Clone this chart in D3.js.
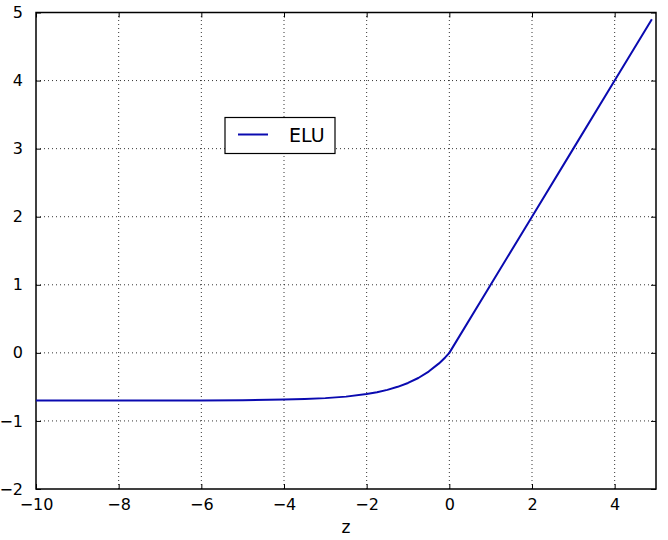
<!DOCTYPE html>
<html>
<head>
<meta charset="utf-8">
<script src="https://cdn.jsdelivr.net/npm/d3@7/dist/d3.min.js"></script>
<style>
  body { margin: 0; background: #fff; }
  text { font-family: "DejaVu Sans", sans-serif; fill: #000; }
</style>
</head>
<body>
<svg id="chart" width="668" height="540"></svg>
<script>
// values
var zValues   = [-10, -9, -8, -7, -6, -5, -4, -3.5, -3, -2.5, -2, -1.75, -1.5, -1.25, -1, -0.75, -0.5, -0.25, -0.1, 0, 1, 2, 3, 4, 4.9];
var eluValues = [-0.70, -0.70, -0.70, -0.70, -0.70, -0.695, -0.687, -0.679, -0.665, -0.643, -0.605, -0.579, -0.544, -0.499, -0.442, -0.369, -0.275, -0.155, -0.067, 0, 1, 2, 3, 4, 4.9];
var xTicks = [-10, -8, -6, -4, -2, 0, 2, 4];
var yTicks = [-2, -1, 0, 1, 2, 3, 4, 5];
var seriesName = "ELU";
var xLabel = "z";

var width = 668,
    height = 540,
    margin = { top: 12.5, right: 12, bottom: 51, left: 36 };

var svg = d3.select("#chart");

var x = d3.scaleLinear().domain([-10, 5]).range([margin.left, width - margin.right]);
var y = d3.scaleLinear().domain([-2, 5]).range([height - margin.bottom, margin.top]);

var fmt = function(d) { return d < 0 ? "\u2212" + Math.abs(d) : "" + d; };

// dotted grid
var grid = svg.append("g").attr("class", "grid");
grid.selectAll(".vgrid")
    .data(xTicks.filter(function(d) { return d > -10; }))
  .enter().append("line")
    .attr("x1", function(d) { return x(d); })
    .attr("x2", function(d) { return x(d); })
    .attr("y1", y(-2))
    .attr("y2", y(5))
    .attr("stroke", "#000")
    .attr("stroke-width", 0.8)
    .attr("stroke-dasharray", "1,3");
grid.selectAll(".hgrid")
    .data(yTicks.filter(function(d) { return d > -2 && d < 5; }))
  .enter().append("line")
    .attr("x1", x(-10))
    .attr("x2", x(5))
    .attr("y1", function(d) { return y(d); })
    .attr("y2", function(d) { return y(d); })
    .attr("stroke", "#000")
    .attr("stroke-width", 0.8)
    .attr("stroke-dasharray", "1,3");

// axes, ticks pointing inward on all four sides
var tickLen = 5;
svg.append("g")
    .attr("transform", "translate(0," + y(-2) + ")")
    .call(d3.axisBottom(x).tickValues(xTicks).tickFormat(fmt).tickSizeInner(-tickLen).tickSizeOuter(0).tickPadding(10))
    .call(function(g) {
      g.select(".domain").remove();
      g.selectAll("text").attr("font-size", 16);
    });
svg.append("g")
    .attr("transform", "translate(0," + y(5) + ")")
    .call(d3.axisTop(x).tickValues(xTicks).tickFormat("").tickSizeInner(-tickLen).tickSizeOuter(0))
    .call(function(g) { g.select(".domain").remove(); });
svg.append("g")
    .attr("transform", "translate(" + x(-10) + ",0)")
    .call(d3.axisLeft(y).tickValues(yTicks).tickFormat(fmt).tickSizeInner(-tickLen).tickSizeOuter(0).tickPadding(13))
    .call(function(g) {
      g.select(".domain").remove();
      g.selectAll("text").attr("font-size", 16);
    });
svg.append("g")
    .attr("transform", "translate(" + x(5) + ",0)")
    .call(d3.axisRight(y).tickValues(yTicks).tickFormat("").tickSizeInner(-tickLen).tickSizeOuter(0))
    .call(function(g) { g.select(".domain").remove(); });

// frame
svg.append("rect")
    .attr("x", x(-10))
    .attr("y", y(5))
    .attr("width", x(5) - x(-10))
    .attr("height", y(-2) - y(5))
    .attr("fill", "none")
    .attr("stroke", "#000")
    .attr("stroke-width", 1.5);

// the ELU curve
var pts = zValues.map(function(z, i) { return [z, eluValues[i]]; });
var line = d3.line()
    .x(function(d) { return x(d[0]); })
    .y(function(d) { return y(d[1]); });

svg.append("path")
    .datum(pts)
    .attr("fill", "none")
    .attr("stroke", "#0a0ab0")
    .attr("stroke-width", 2)
    .attr("stroke-linejoin", "round")
    .attr("d", line);

// x label
svg.append("text")
    .attr("x", (x(-10) + x(5)) / 2)
    .attr("y", 533)
    .attr("text-anchor", "middle")
    .attr("font-size", 17)
    .text(xLabel);

// legend
var lg = svg.append("g").attr("transform", "translate(225,117.5)");
lg.append("rect")
    .attr("width", 110)
    .attr("height", 36)
    .attr("fill", "#fff")
    .attr("stroke", "#000")
    .attr("stroke-width", 1.2);
lg.append("line")
    .attr("x1", 13).attr("x2", 43)
    .attr("y1", 17).attr("y2", 17)
    .attr("stroke", "#0a0ab0")
    .attr("stroke-width", 2);
lg.append("text")
    .attr("x", 64)
    .attr("y", 24.5)
    .attr("font-size", 19)
    .text(seriesName);
</script>
</body>
</html>
